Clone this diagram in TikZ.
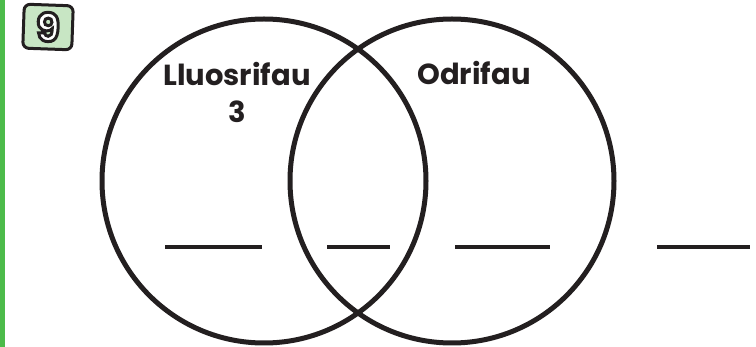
\documentclass[tikz,border=0pt]{standalone}
\usepackage{fontspec}
\setmainfont{Poppins}
\usetikzlibrary{positioning}
\definecolor{ink}{HTML}{231F20}
\definecolor{leaf}{HTML}{4CBB4A}
\definecolor{mint}{HTML}{C8E6C4}
% white figure with a dark outline (text render mode 2)
\newcommand{\outlinednum}[1]{{\color{white}%
  \special{pdf:literal direct 2 Tr 3 w 0.137 0.122 0.125 RG}#1%
  \special{pdf:literal direct 0 Tr}}}

\begin{document}
\begin{tikzpicture}[x=1pt, y=-1pt, text=ink,
  font=\bfseries\fontsize{29}{37}\selectfont,
  set/.style={circle, draw=ink, line width=5pt, minimum size=324pt, inner sep=0pt},
  blank/.style={draw=ink, line width=3.5pt}]
  \useasboundingbox (0,0) rectangle (756,347);

  % side bar and question number
  \fill[leaf] (0,0) rectangle (5,347);
  \node[draw=ink, fill=mint, line width=3pt, rounded corners=6pt,
    minimum width=49pt, minimum height=44pt, inner sep=0pt, rotate=-2,
    font=\bfseries\fontsize{39}{39}\selectfont] (num) at (48,27)
    {\outlinednum{9}};

  % sets
  \node[set] (left) at (264,181) {};
  \node[set] (right) at (452,181) {};
  \node[anchor=north, align=center, inner sep=0pt] (multi) at (237,62)
    {Lluosrifau\\3};
  \node[anchor=base, inner sep=0pt] (odd) at (474,85) {Odrifau};

  % blanks
  \draw[blank] (165,247) -- (262,247);
  \draw[blank] (327,247) -- (390,247);
  \draw[blank] (455,247) -- (550,247);
  \draw[blank] (657,247) -- (750,247);
\end{tikzpicture}
\end{document}
